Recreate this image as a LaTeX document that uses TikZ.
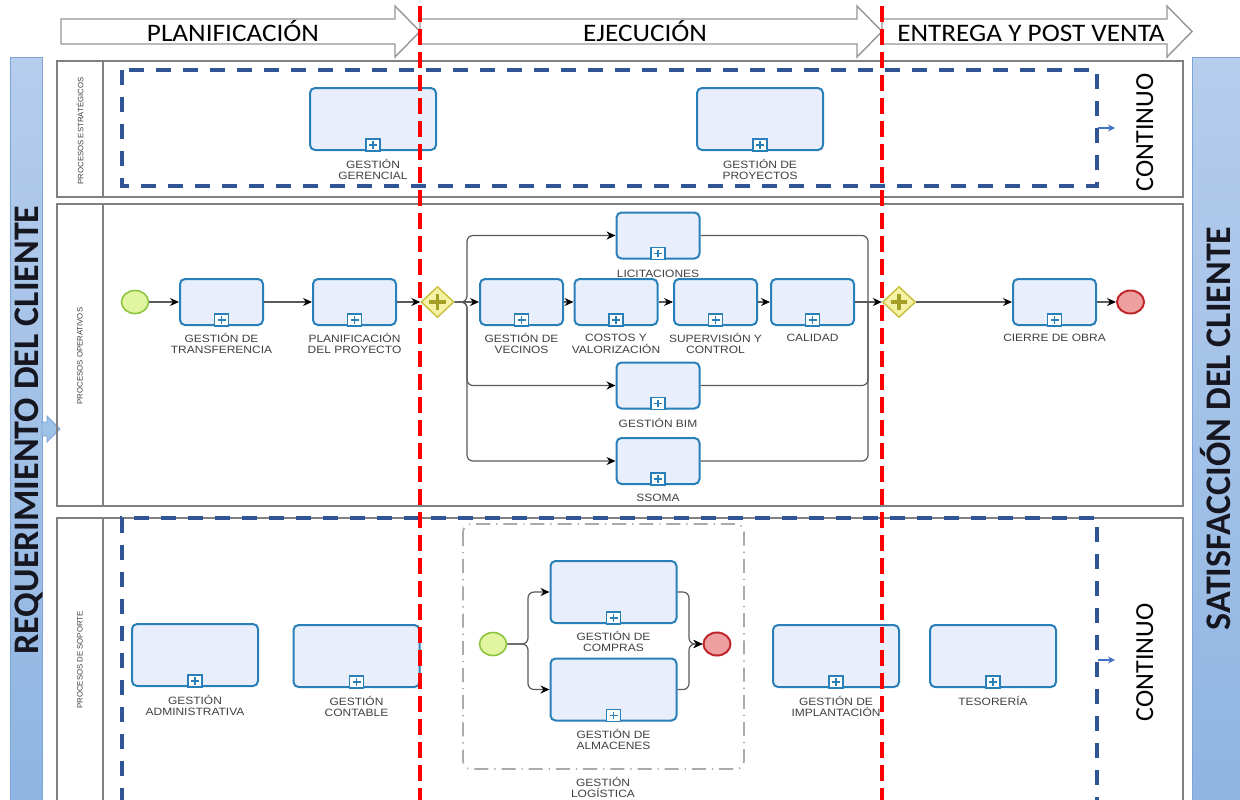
\documentclass[tikz,border=0pt]{standalone}
\usepackage{fontspec}
\setmainfont{Carlito}
\newfontfamily\phasefont[FakeStretch=1.08]{Carlito}
\newfontfamily\lblfont[FakeStretch=1.13]{Liberation Sans}
\newfontfamily\hdrfont{Liberation Sans}
\usetikzlibrary{shapes.geometric,arrows.meta}
\definecolor{taskblue}{RGB}{41,128,185}
\definecolor{taskfill}{RGB}{233,238,252}
\definecolor{lanegray}{RGB}{128,128,128}
\definecolor{txtgray}{RGB}{64,64,64}
\definecolor{dashblue}{RGB}{47,85,151}
\definecolor{redline}{RGB}{255,0,0}
\definecolor{barTop}{RGB}{182,205,236}
\definecolor{barBot}{RGB}{141,180,226}
\definecolor{barEdge}{RGB}{125,163,215}
\definecolor{startfill}{RGB}{226,245,160}
\definecolor{startdraw}{RGB}{140,198,63}
\definecolor{endfill}{RGB}{238,160,160}
\definecolor{enddraw}{RGB}{192,39,45}
\definecolor{gwfill}{RGB}{245,242,165}
\definecolor{gwdraw}{RGB}{200,190,60}
\definecolor{gwplus}{RGB}{165,158,39}
\definecolor{flowgray}{RGB}{90,90,90}
\definecolor{arrowgray}{RGB}{150,150,150}
\definecolor{groupgray}{RGB}{170,170,170}
\definecolor{contblue}{RGB}{68,114,196}
\definecolor{bartext}{RGB}{22,22,32}
\definecolor{smallarrow}{RGB}{157,195,230}
\begin{document}
\begin{tikzpicture}[x=0.5pt,y=-0.5pt,
 task/.style={rectangle, rounded corners=2.5pt, draw=taskblue, fill=taskfill, line width=1pt, inner sep=0pt},
 tsmall/.style={task, minimum width=41.5pt, minimum height=23pt},
 tlarge/.style={task, minimum width=63pt, minimum height=31pt},
 plusmark/.style={rectangle, draw=taskblue, fill=white, line width=0.6pt, minimum width=7pt, minimum height=6pt, inner sep=0pt,
   path picture={\draw[taskblue, line width=0.9pt] ([xshift=-2pt]path picture bounding box.center) -- ([xshift=2pt]path picture bounding box.center) ([yshift=-1.8pt]path picture bounding box.center) -- ([yshift=1.8pt]path picture bounding box.center);}},
 lbl/.style={font=\lblfont\fontsize{5.3pt}{5.6pt}\selectfont, text=txtgray, align=center, inner sep=0pt, anchor=north},
 startev/.style={ellipse, draw=startdraw, fill=startfill, line width=0.8pt, minimum width=13.5pt, minimum height=11.5pt, inner sep=0pt},
 endev/.style={ellipse, draw=enddraw, fill=endfill, line width=1pt, minimum width=13.5pt, minimum height=11.5pt, inner sep=0pt},
 gateway/.style={diamond, draw=gwdraw, fill=gwfill, line width=0.7pt, minimum width=16.5pt, minimum height=15.5pt, inner sep=0pt,
   path picture={\draw[gwplus, line width=1.8pt] ([xshift=-4.2pt]path picture bounding box.center) -- ([xshift=4.2pt]path picture bounding box.center) ([yshift=-4pt]path picture bounding box.center) -- ([yshift=4pt]path picture bounding box.center);}},
 flow/.style={draw=flowgray, line width=0.6pt, -{Stealth[length=4.5pt,width=4pt,color=black]}},
 seq/.style={draw=flowgray, line width=0.6pt},
 lane/.style={draw=lanegray, line width=0.9pt},
 lanehdr/.style={font=\hdrfont\fontsize{3.9pt}{4pt}\selectfont, text=txtgray, rotate=90, inner sep=0pt},
 phase/.style={draw=arrowgray, fill=white, line width=0.7pt},
 phasetxt/.style={font=\phasefont\fontsize{12.6pt}{14pt}\selectfont, inner sep=0pt, anchor=base},
 bluedash/.style={draw=dashblue, line width=1.8pt, dash pattern=on 7.5pt off 6pt},
 reddash/.style={draw=redline, line width=1.6pt, dash pattern=on 8pt off 3.5pt},
 cont/.style={font=\fontsize{13pt}{14pt}\selectfont, rotate=90, inner sep=0pt, anchor=base},
 bartxt/.style={font=\bfseries\fontsize{18pt}{20pt}\selectfont, rotate=90, inner sep=0pt, text=bartext, anchor=base},
 bar/.style={top color=barTop, bottom color=barBot, draw=barEdge, line width=0.5pt},
 grp/.style={draw=groupgray, line width=0.9pt, rounded corners=4pt, dash pattern=on 7pt off 3pt on 0.6pt off 3pt},
 contarrow/.style={draw=contblue, line width=0.6pt, -{Stealth[length=3.5pt,width=3.5pt]}}
]
\useasboundingbox (0,0) rectangle (1240,799);
\clip (0,0) rectangle (1240,799);
\fill[white] (0,0) rectangle (1240,799);

% side bars
\path[bar] (10,57) rectangle (42,830);
\path[bar] (1192,57) rectangle (1246,830);
\node[bartxt] (req) at (38,430) {REQUERIMIENTO DEL CLIENTE};
\node[bartxt] (sat) at (1230,428.5) {SATISFACCIÓN DEL CLIENTE};
\path[fill=smallarrow, draw=barEdge, line width=0.4pt] (42,422) -- (47,422) -- (47,416) -- (60,429) -- (47,442) -- (47,436) -- (42,436) -- cycle;

% phase arrows
\draw[phase] (61,19) -- (395,19) -- (395,6) -- (420,31.5) -- (395,57) -- (395,44) -- (61,44) -- cycle;
\draw[phase] (420,19) -- (857,19) -- (857,6) -- (882,31.5) -- (857,57) -- (857,44) -- (420,44) -- cycle;
\draw[phase] (882,19) -- (1167,19) -- (1167,6) -- (1192,31.5) -- (1167,57) -- (1167,44) -- (882,44) -- cycle;
\node[phasetxt] (ph1) at (233,41) {PLANIFICACIÓN};
\node[phasetxt] (ph2) at (645,41) {EJECUCIÓN};
\node[phasetxt] (ph3) at (1031,41) {ENTREGA Y POST VENTA};

% lanes
\draw[lane] (57,61) rectangle (1183,197);
\draw[lane] (103,61) -- (103,197);
\draw[lane] (57,204) rectangle (1183,506);
\draw[lane] (103,204) -- (103,506);
\draw[lane] (57,830) -- (57,518) -- (1183,518) -- (1183,830);
\draw[lane] (103,518) -- (103,830);
\node[lanehdr] (h1) at (80,131) {PROCESOS ESTRATÉGICOS};
\node[lanehdr] (h2) at (80,356) {PROCESOS OPERATIVOS};
\node[lanehdr] (h3) at (80,660) {PROCESOS DE SOPORTE};

% blue dashed areas
\draw[bluedash] (122,70) rectangle (1097,186);
\draw[bluedash] (122,830) -- (122,518) -- (1097,518) -- (1097,830);
\coordinate (ca1) at (1098,128);
\coordinate (cb1) at (1115,128);
\coordinate (ca2) at (1098,660);
\coordinate (cb2) at (1115,660);
\draw[contarrow] (ca1) -- (cb1);
\draw[contarrow] (ca2) -- (cb2);
\node[cont] (co1) at (1153,132.5) {CONTINUO};
\node[cont] (co2) at (1153,662.5) {CONTINUO};

% strategic tasks
\node[tlarge] (gg) at (373,119) {};
\node[tlarge] (gp) at (760,119) {};
\node[lbl] (ggl) at ([yshift=-4pt]gg.south) {GESTIÓN\\GERENCIAL};
\node[lbl] (gpl) at ([yshift=-4pt]gp.south) {GESTIÓN DE\\PROYECTOS};

% operative
\node[startev] (s1) at (135,302) {};
\node[tsmall] (t1) at (221.5,302) {};
\node[tsmall] (t2) at (354.5,302) {};
\node[gateway] (g1) at (437.5,302) {};
\node[tsmall] (vec) at (521.5,302) {};
\node[tsmall] (cos) at (616,302) {};
\node[tsmall] (sup) at (715.5,302) {};
\node[tsmall] (cal) at (812.5,302) {};
\node[tsmall] (lic) at (658,235.5) {};
\node[tsmall] (bim) at (658,385.5) {};
\node[tsmall] (ssoma) at (658,461) {};
\node[gateway] (g2) at (899,302) {};
\node[tsmall] (cie) at (1054.5,302) {};
\node[endev] (e1) at (1130.5,302) {};

\node[lbl] (t1l) at ([yshift=-3.5pt]t1.south) {GESTIÓN DE\\TRANSFERENCIA};
\node[lbl] (t2l) at ([yshift=-3.5pt]t2.south) {PLANIFICACIÓN\\DEL PROYECTO};
\node[lbl] (vecl) at ([yshift=-3.5pt]vec.south) {GESTIÓN DE\\VECINOS};
\node[lbl] (cosl) at ([yshift=-4pt]cos.south) {COSTOS Y\\VALORIZACIÓN};
\node[lbl] (supl) at ([yshift=-3.5pt]sup.south) {SUPERVISIÓN Y\\CONTROL};
\node[lbl] (call) at ([yshift=-4pt]cal.south) {CALIDAD};
\node[lbl] (licl) at ([yshift=-5pt]lic.south) {LICITACIONES};
\node[lbl] (biml) at ([yshift=-4pt]bim.south) {GESTIÓN BIM};
\node[lbl] (ssomal) at ([yshift=-4.5pt]ssoma.south) {SSOMA};
\node[lbl] (ciel) at ([yshift=-4pt]cie.south) {CIERRE DE OBRA};

\coordinate (j1) at (467,302);
\coordinate (j2) at (868,302);
\draw[flow] (s1.east) -- (t1.west);
\draw[flow] (t1.east) -- (t2.west);
\draw[flow] (t2.east) -- (g1.west);
\draw[flow] (g1.east) -- (vec.west);
\draw[flow] (vec.east) -- (cos.west);
\draw[flow] (cos.east) -- (sup.west);
\draw[flow] (sup.east) -- (cal.west);
\draw[flow] (cal.east) -- (g2.west);
\draw[flow, rounded corners=3pt] (g1.east) -- (j1) |- (lic.west);
\draw[flow, rounded corners=3pt] (g1.east) -- (j1) |- (bim.west);
\draw[flow, rounded corners=3pt] (g1.east) -- (j1) |- (ssoma.west);
\draw[seq, rounded corners=3pt] (lic.east) -| (j2);
\draw[seq, rounded corners=3pt] (bim.east) -| (j2);
\draw[seq, rounded corners=3pt] (ssoma.east) -| (j2);
\draw[flow] (g2.east) -- (cie.west);
\draw[flow] (cie.east) -- (e1.west);

% support
\node[tlarge] (adm) at (195,655) {};
\node[tlarge] (cont) at (356.5,656) {};
\draw[grp] (463,524) rectangle (744,769);
\node[lbl] (grpl) at (603,777) {GESTIÓN\\LOGÍSTICA};
\node[startev] (s2) at (493,644) {};
\node[tlarge] (comp) at (613.5,592) {};
\node[tlarge] (alm) at (613.5,689.5) {};
\node[endev] (e2) at (717,644) {};
\node[tlarge] (impl) at (836,656) {};
\node[tlarge] (tes) at (993,656) {};
\node[lbl] (adml) at ([yshift=-4pt]adm.south) {GESTIÓN\\ADMINISTRATIVA};
\node[lbl] (contl) at ([yshift=-4pt]cont.south) {GESTIÓN\\CONTABLE};
\node[lbl] (compl) at ([yshift=-3.5pt]comp.south) {GESTIÓN DE\\COMPRAS};
\node[lbl] (alml) at ([yshift=-3.5pt]alm.south) {GESTIÓN DE\\ALMACENES};
\node[lbl] (impll) at ([yshift=-4pt]impl.south) {GESTIÓN DE\\IMPLANTACIÓN};
\node[lbl] (tesl) at ([yshift=-4pt]tes.south) {TESORERÍA};
\coordinate (j3) at (528,644);
\coordinate (j4) at (689,644);
\draw[flow, rounded corners=3pt] (s2.east) -- (j3) |- (comp.west);
\draw[flow, rounded corners=3pt] (s2.east) -- (j3) |- (alm.west);
\draw[flow, rounded corners=3pt] (comp.east) -| (j4) -- (e2.west);
\draw[flow, rounded corners=3pt] (alm.east) -| (j4) -- (e2.west);

% sub-process markers
\foreach \n in {gg,gp,t1,t2,vec,cos,sup,cal,lic,bim,ssoma,cie,adm,cont,comp,alm,impl,tes}
  \node[plusmark] (\n-p) at ([yshift=3pt]\n.south) {};

% red phase lines
\draw[reddash] (420,6) -- (420,805);
\draw[reddash] (882,6) -- (882,805);
\end{tikzpicture}
\end{document}
